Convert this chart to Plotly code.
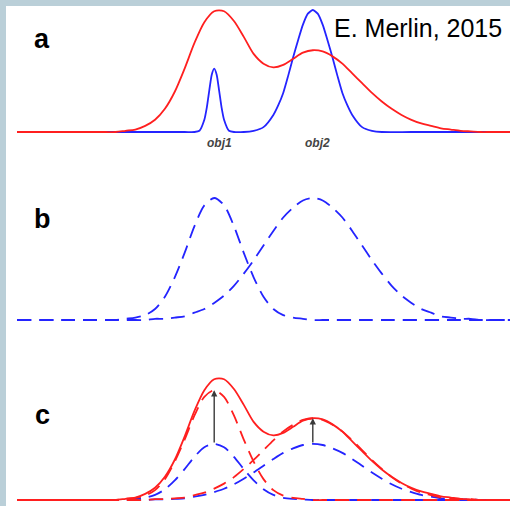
import plotly.graph_objects as go

# ---- data -------------------------------------------------------------
# common position grid (arbitrary units, 0..100)
pos = [0, 10, 16, 18, 20, 22, 24, 26, 28, 30, 32, 34, 36, 38, 40, 42, 44, 46, 48,
       50, 52, 54, 56, 58, 60, 62, 64, 66, 68, 70, 72, 74, 76, 78, 80, 82, 84, 86,
       88, 90, 92, 94, 96, 100]

# low-resolution profile (obj1 + obj2 blended)
lowres = [0, 0, 0, 0, 0, 0.01, 0.02, 0.05, 0.10, 0.19, 0.33, 0.52, 0.73, 0.90, 0.99,
          0.99, 0.91, 0.78, 0.64, 0.56, 0.53, 0.55, 0.60, 0.65, 0.67, 0.66, 0.62,
          0.56, 0.48, 0.40, 0.32, 0.25, 0.19, 0.14, 0.10, 0.07, 0.05, 0.03, 0.02,
          0.01, 0.005, 0, 0, 0]

# normalised templates of obj1 and obj2 at low resolution
tmpl1 = [0, 0, 0, 0, 0, 0.01, 0.02, 0.04, 0.09, 0.19, 0.35, 0.55, 0.77, 0.94, 1.00,
         0.94, 0.77, 0.55, 0.35, 0.19, 0.09, 0.04, 0.02, 0.01, 0, 0, 0, 0, 0, 0, 0,
         0, 0, 0, 0, 0, 0, 0, 0, 0, 0, 0, 0, 0]
tmpl2 = [0, 0, 0, 0, 0, 0, 0, 0, 0.01, 0.01, 0.02, 0.03, 0.06, 0.09, 0.14, 0.20,
         0.28, 0.38, 0.49, 0.61, 0.73, 0.84, 0.92, 0.98, 1.00, 0.98, 0.92, 0.84,
         0.73, 0.61, 0.49, 0.38, 0.28, 0.20, 0.14, 0.09, 0.06, 0.03, 0.02, 0.01,
         0.01, 0, 0, 0]

# high-resolution profile (two separated objects)
hires_pos = [0, 34, 36, 37, 38, 38.5, 39, 39.5, 40, 40.5, 41, 41.5, 42, 43, 44, 46,
             48, 50, 52, 53, 54, 55, 56, 57, 58, 59, 60, 61, 62, 63, 64, 65, 66, 67,
             68, 70, 72, 74, 80, 100]
hires = [0, 0, 0, 0.01, 0.10, 0.20, 0.34, 0.47, 0.52, 0.47, 0.34, 0.20, 0.10, 0.01,
         0, 0, 0.01, 0.04, 0.14, 0.22, 0.32, 0.46, 0.61, 0.75, 0.88, 0.97, 1.00,
         0.97, 0.88, 0.75, 0.61, 0.46, 0.32, 0.22, 0.14, 0.04, 0.01, 0, 0, 0]

# template scalings: first guess and fitted fluxes
obj_centres = [40, 60]
guess_flux = [0.46, 0.46]
fit_flux = [0.90, 0.67]

panel_labels = ["a", "b", "c"]
obj_labels = ["obj1", "obj2"]
credit = "E. Merlin, 2015"

# ---- styling ----------------------------------------------------------
W, H = 510, 506
U = 122.0                       # pixels per unit of profile height
RED = "#ff1f1f"
BLUE = "#2424ff"
DASH = "14px,8px"
LW = 1.8


def domain(base_px, lo, hi):
    bottom = base_px - lo * U
    top = base_px - hi * U
    return [1 - bottom / H, 1 - top / H]


fig = go.Figure()

# panel a: high-res truth and low-res blend (blend drawn on top)
fig.add_trace(go.Scatter(x=hires_pos, y=hires, mode="lines", xaxis="x", yaxis="y",
                         line=dict(color=BLUE, width=LW, shape="spline", smoothing=0.6)))
fig.add_trace(go.Scatter(x=pos, y=lowres, mode="lines", xaxis="x", yaxis="y",
                         line=dict(color=RED, width=LW, shape="spline", smoothing=0.8)))

# panel b: normalised templates
for t in (tmpl1, tmpl2):
    fig.add_trace(go.Scatter(x=pos, y=t, mode="lines", xaxis="x2", yaxis="y2",
                             line=dict(color=BLUE, width=LW, dash=DASH,
                                       shape="spline", smoothing=0.8)))

# panel c: scaled templates and the blended profile
for t, g in zip((tmpl1, tmpl2), guess_flux):
    fig.add_trace(go.Scatter(x=pos, y=[v * g for v in t], mode="lines",
                             xaxis="x3", yaxis="y3",
                             line=dict(color=BLUE, width=LW, dash=DASH,
                                       shape="spline", smoothing=0.8)))
for t, f in zip((tmpl1, tmpl2), fit_flux):
    fig.add_trace(go.Scatter(x=pos, y=[v * f for v in t], mode="lines",
                             xaxis="x3", yaxis="y3",
                             line=dict(color=RED, width=LW, dash=DASH,
                                       shape="spline", smoothing=0.8)))
fig.add_trace(go.Scatter(x=pos, y=lowres, mode="lines", xaxis="x3", yaxis="y3",
                         line=dict(color=RED, width=LW, shape="spline", smoothing=0.8)))

annotations = []
# arrows from the first guess to the fitted flux
for c, g, f in zip(obj_centres, guess_flux, fit_flux):
    annotations.append(dict(x=c, y=f, ax=c, ay=g, xref="x3", yref="y3",
                            axref="x3", ayref="y3", text="", showarrow=True,
                            arrowhead=2, arrowsize=0.9, arrowwidth=1.4,
                            arrowcolor="#3a3a3a"))

# object names under panel a
for c, name in zip(obj_centres, obj_labels):
    annotations.append(dict(x=c + 1, y=-0.09, xref="x", yref="y",
                            text=f"<b><i>{name}</i></b>", showarrow=False,
                            xanchor="center", yanchor="middle",
                            font=dict(size=12, color="#444444",
                                      family="Liberation Sans, Arial")))

# panel letters
for lab, ypx in zip(panel_labels, (39, 219, 415)):
    annotations.append(dict(x=42 / W, y=1 - ypx / H, xref="paper", yref="paper",
                            xanchor="center", yanchor="middle",
                            text=f"<b>{lab}</b>", showarrow=False,
                            font=dict(size=27, color="black",
                                      family="Liberation Sans, Arial")))

annotations.append(dict(x=504 / W, y=1 - 28 / H, xref="paper", yref="paper",
                        xanchor="right", yanchor="middle", text=credit, showarrow=False,
                        font=dict(size=25, color="black", family="Liberation Sans, Arial")))

xdom = [17 / W, 1]
axis_x = dict(range=[0, 100], domain=xdom, visible=False, fixedrange=True)

fig.update_layout(
    width=W, height=H,
    margin=dict(l=0, r=0, t=0, b=0),
    paper_bgcolor="#bacfd8",
    plot_bgcolor="rgba(0,0,0,0)",
    showlegend=False,
    xaxis=dict(axis_x, anchor="y"),
    xaxis2=dict(axis_x, anchor="y2"),
    xaxis3=dict(axis_x, anchor="y3"),
    yaxis=dict(range=[-0.3, 1.08], domain=domain(132, -0.3, 1.08), visible=False, anchor="x"),
    yaxis2=dict(range=[-0.25, 1.2], domain=domain(320, -0.25, 1.2), visible=False, anchor="x2"),
    yaxis3=dict(range=[-0.04, 1.2], domain=domain(500, -0.04, 1.2), visible=False, anchor="x3"),
    annotations=annotations,
    shapes=[dict(type="rect", xref="paper", yref="paper", x0=6 / W, x1=1,
                 y0=0, y1=1 - 6 / H, fillcolor="white", line=dict(width=0),
                 layer="below")],
)

fig.write_html("out.html")
